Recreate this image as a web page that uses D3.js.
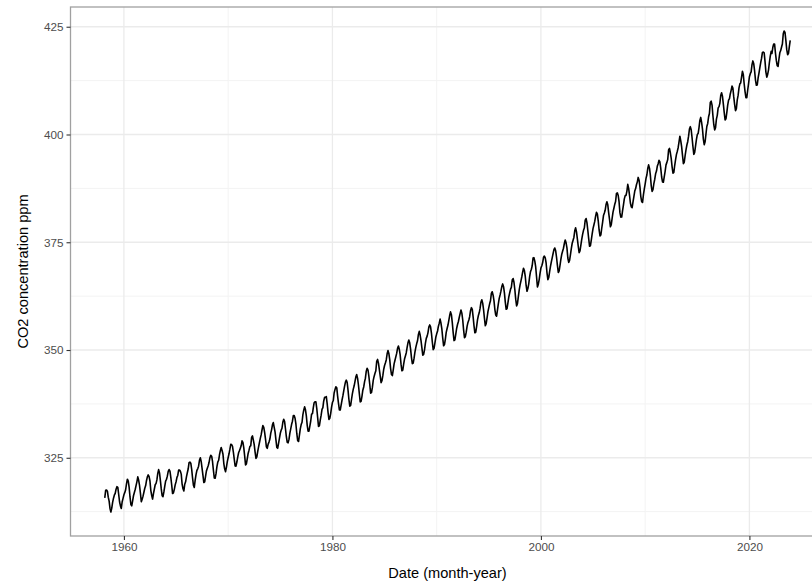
<!DOCTYPE html>
<html>
<head>
<meta charset="utf-8">
<script src="https://cdn.jsdelivr.net/npm/d3@7"></script>
<style>
  body { margin: 0; background: #fff; }
  svg { display: block; font-family: "Liberation Sans", Arial, sans-serif; }
</style>
</head>
<body>
<div id="chart"></div>
<script>
// Mauna Loa monthly CO2 (ppm), first series starts March 1958
const startYear = 1958;
const startMonth = 2; // 0-based: March

const co2_1950s = [
  315.70, 317.45, 317.51, 317.24, 315.86, 314.93, 313.20, 312.43, 313.33, 314.67,
  315.62, 316.38, 316.71, 317.72, 318.29, 318.15, 316.54, 314.80, 313.84, 313.26, 314.80, 315.58
];
const co2_1960s = [
  316.43, 316.97, 317.58, 319.02, 320.03, 319.59, 318.18, 315.91, 314.16, 313.83, 315.00, 316.19,
  316.93, 317.70, 318.54, 319.48, 320.58, 319.77, 318.57, 316.79, 314.80, 315.38, 316.10, 317.01,
  317.94, 318.56, 319.68, 320.57, 321.02, 320.62, 319.61, 317.40, 316.25, 315.42, 316.69, 317.70,
  318.74, 319.07, 319.86, 321.38, 322.25, 321.48, 319.74, 317.77, 316.21, 315.99, 317.07, 318.35,
  319.57, 320.01, 320.74, 321.84, 322.26, 321.89, 320.44, 318.69, 316.70, 316.87, 317.68, 318.71,
  319.44, 320.44, 320.89, 322.14, 322.17, 321.87, 321.21, 318.87, 317.81, 317.30, 318.87, 319.42,
  320.62, 321.59, 322.39, 323.87, 324.01, 323.75, 322.39, 320.37, 318.64, 318.10, 319.79, 321.08,
  322.07, 322.50, 323.04, 324.42, 325.00, 324.09, 322.54, 320.92, 319.25, 319.39, 320.73, 321.96,
  322.57, 323.15, 323.89, 325.02, 325.57, 325.36, 324.14, 322.11, 320.33, 320.25, 321.32, 322.89,
  324.00, 324.42, 325.64, 326.66, 327.38, 326.70, 325.89, 323.67, 322.38, 321.78, 322.85, 324.12
];
const co2_1970s = [
  325.06, 325.98, 326.93, 328.13, 328.08, 327.67, 326.34, 324.69, 323.10, 323.06, 324.01, 325.13,
  326.17, 326.68, 327.18, 327.78, 328.92, 328.57, 327.34, 325.46, 323.36, 323.57, 324.80, 326.01,
  326.77, 327.63, 327.75, 329.72, 330.07, 329.09, 328.04, 326.32, 324.84, 325.20, 326.50, 327.55,
  328.55, 329.56, 330.30, 331.50, 332.48, 332.07, 330.87, 329.31, 327.51, 327.18, 328.16, 328.64,
  329.35, 330.71, 331.48, 332.65, 333.16, 332.06, 330.99, 329.17, 327.41, 327.20, 328.33, 329.50,
  330.68, 331.41, 331.85, 333.29, 333.91, 333.40, 331.74, 329.88, 328.57, 328.46, 329.26, 330.67,
  331.71, 332.76, 333.48, 334.78, 334.78, 334.17, 332.78, 330.64, 328.95, 328.77, 330.23, 331.69,
  332.70, 333.24, 334.96, 336.04, 336.82, 336.13, 334.73, 332.52, 331.19, 331.19, 332.35, 333.47,
  335.11, 335.26, 336.60, 337.77, 338.00, 337.99, 336.48, 334.37, 332.27, 332.41, 333.76, 334.83,
  336.21, 336.64, 338.12, 339.02, 339.02, 339.20, 337.58, 335.55, 333.89, 334.14, 335.26, 336.71
];
const co2_1980s = [
  337.81, 338.29, 340.04, 340.86, 341.47, 341.26, 339.29, 337.60, 336.12, 336.08, 337.22, 338.34,
  339.36, 340.51, 341.57, 342.56, 343.01, 342.47, 340.71, 338.52, 336.96, 337.13, 338.58, 339.89,
  340.93, 341.69, 342.69, 343.79, 344.30, 343.43, 341.88, 339.89, 337.95, 338.10, 339.27, 340.67,
  341.42, 342.68, 343.46, 345.10, 345.76, 345.36, 343.91, 342.05, 340.00, 340.12, 341.33, 342.94,
  343.87, 344.60, 345.20, 347.36, 347.81, 346.96, 345.53, 343.98, 342.41, 342.87, 344.04, 345.48,
  346.40, 347.05, 347.69, 349.12, 349.90, 349.17, 347.76, 345.69, 344.30, 344.07, 345.39, 346.77,
  347.63, 348.46, 349.22, 350.40, 350.94, 350.16, 348.91, 346.72, 345.18, 345.33, 346.71, 347.90,
  348.61, 349.38, 350.56, 351.68, 352.30, 351.66, 350.26, 348.31, 346.83, 346.97, 348.11, 349.50,
  350.60, 351.49, 352.15, 353.62, 354.33, 353.47, 352.16, 350.49, 348.80, 348.98, 350.05, 351.54,
  352.70, 353.23, 353.99, 355.32, 355.82, 355.37, 353.94, 351.85, 350.09, 350.39, 351.63, 352.95
];
const co2_1990s = [
  353.75, 354.41, 355.47, 356.23, 357.16, 356.20, 354.88, 352.76, 350.98, 351.25, 352.53, 354.09,
  354.98, 355.79, 356.84, 358.00, 358.85, 358.19, 356.42, 354.09, 352.19, 352.35, 353.68, 354.99,
  355.92, 356.62, 357.54, 358.45, 359.29, 358.56, 357.02, 354.66, 352.88, 353.09, 354.14, 355.48,
  356.40, 356.97, 357.72, 359.14, 359.82, 359.41, 357.69, 355.60, 353.99, 354.17, 355.47, 357.00,
  358.01, 358.69, 359.66, 361.09, 361.65, 360.88, 359.40, 357.37, 355.62, 356.11, 357.46, 358.87,
  359.82, 360.78, 361.43, 363.13, 363.52, 362.71, 361.47, 359.45, 358.11, 357.85, 359.32, 360.72,
  361.99, 362.79, 363.65, 364.72, 365.33, 364.69, 363.26, 361.12, 359.45, 359.62, 360.95, 362.28,
  363.23, 364.11, 364.52, 366.24, 366.58, 365.72, 364.03, 361.80, 360.24, 360.76, 362.40, 363.90,
  365.11, 366.05, 366.94, 368.06, 368.98, 368.44, 367.12, 364.97, 363.63, 364.26, 365.36, 366.97,
  368.19, 368.73, 369.54, 371.33, 371.44, 370.61, 369.32, 366.99, 364.61, 365.21, 366.35, 367.79
];
const co2_2000s = [
  369.02, 369.55, 370.24, 371.51, 371.80, 371.36, 370.19, 367.90, 366.31, 366.81, 368.16, 369.40,
  370.48, 371.44, 372.34, 373.28, 373.67, 373.01, 371.52, 369.62, 367.98, 368.36, 369.67, 371.06,
  372.23, 372.98, 373.61, 374.71, 375.52, 374.88, 373.69, 371.34, 370.33, 370.78, 372.15, 373.53,
  374.77, 375.48, 376.11, 377.65, 378.35, 377.39, 375.80, 374.07, 372.57, 372.99, 374.31, 375.66,
  376.84, 377.76, 378.31, 380.14, 380.50, 379.57, 377.79, 375.86, 374.06, 374.23, 375.55, 376.92,
  378.21, 379.05, 379.84, 381.06, 381.95, 381.52, 379.98, 377.85, 376.46, 376.68, 378.25, 379.63,
  381.19, 381.77, 382.41, 383.74, 384.38, 383.68, 381.89, 380.32, 378.58, 379.09, 380.59, 381.99,
  382.89, 383.84, 384.46, 386.35, 386.47, 385.85, 384.41, 381.81, 380.83, 380.85, 382.34, 383.64,
  385.07, 385.82, 385.86, 386.87, 388.44, 387.50, 385.94, 384.10, 383.20, 383.02, 384.34, 385.59,
  386.88, 387.45, 388.34, 389.01, 390.04, 389.40, 387.85, 385.60, 384.44, 384.24, 386.04, 387.30
];
const co2_2010s = [
  388.52, 389.87, 390.60, 392.10, 392.96, 392.20, 390.56, 388.15, 386.80, 387.18, 388.60, 389.56,
  390.87, 391.51, 392.61, 393.24, 394.01, 393.62, 392.14, 390.14, 389.00, 388.93, 390.22, 391.46,
  392.95, 393.53, 394.20, 396.44, 396.78, 395.76, 394.45, 392.50, 391.01, 391.19, 392.86, 394.16,
  395.39, 396.13, 396.93, 398.30, 399.60, 398.53, 397.17, 395.14, 393.23, 393.56, 395.13, 396.44,
  397.56, 398.38, 399.60, 401.28, 401.81, 401.10, 399.30, 397.21, 395.40, 395.82, 397.35, 398.81,
  399.98, 400.28, 401.54, 403.28, 403.96, 402.80, 401.31, 398.93, 397.63, 398.29, 400.16, 401.85,
  402.56, 404.12, 404.87, 407.45, 407.72, 406.83, 404.41, 402.27, 401.05, 401.59, 403.55, 404.45,
  406.17, 406.46, 407.22, 409.04, 409.69, 408.88, 407.12, 405.13, 403.37, 403.63, 405.12, 406.81,
  407.96, 408.32, 409.41, 410.24, 411.24, 410.79, 408.71, 406.99, 405.51, 406.00, 408.02, 409.07,
  410.83, 411.75, 411.97, 413.32, 414.66, 413.92, 411.77, 409.95, 408.54, 408.53, 410.27, 411.76
];
const co2_2020s = [
  413.40, 414.11, 414.51, 416.21, 417.07, 416.39, 414.74, 412.64, 411.42, 411.48, 413.11, 414.25,
  415.52, 416.75, 417.64, 419.05, 419.13, 418.94, 416.96, 414.47, 413.30, 413.93, 415.01, 416.71,
  418.19, 419.28, 418.81, 420.23, 420.99, 420.99, 418.90, 417.19, 415.95, 415.78, 417.51, 418.95,
  419.47, 420.31, 420.99, 423.36, 424.00, 423.68, 421.83, 419.68, 418.51, 418.82, 420.46, 421.86
];

const xTickYears = [1960, 1980, 2000, 2020];
const xMinorYears = [1970, 1990, 2010];
const yTicks = [325, 350, 375, 400, 425];
const yMinor = [312.5, 337.5, 362.5, 387.5, 412.5];

const data = [co2_1950s, co2_1960s, co2_1970s, co2_1980s, co2_1990s, co2_2000s, co2_2010s, co2_2020s]
  .flat()
  .map((v, i) => ({ date: new Date(startYear, startMonth + i, 1), ppm: v }));

const W = 812, H = 584;
const panel = { left: 70.5, right: 824.5, top: 7, bottom: 536 };

const svg = d3.select("#chart").append("svg")
  .attr("width", W)
  .attr("height", H);

// ggplot-style 5% expansion of the data range
const xExt = d3.extent(data, d => d.date);
const xPad = (xExt[1] - xExt[0]) * 0.05;
const x = d3.scaleTime()
  .domain([new Date(+xExt[0] - xPad), new Date(+xExt[1] + xPad)])
  .range([panel.left, panel.right]);

const yExt = d3.extent(data, d => d.ppm);
const yPad = (yExt[1] - yExt[0]) * 0.05;
const y = d3.scaleLinear()
  .domain([yExt[0] - yPad, yExt[1] + yPad])
  .range([panel.bottom, panel.top]);

const yearDate = yr => new Date(yr, 0, 1);

// grid
const grid = svg.append("g");
grid.selectAll(".ymin").data(yMinor).join("line")
  .attr("x1", panel.left).attr("x2", panel.right)
  .attr("y1", d => y(d)).attr("y2", d => y(d))
  .attr("stroke", "#f3f3f3").attr("stroke-width", 1);
grid.selectAll(".xmin").data(xMinorYears).join("line")
  .attr("y1", panel.top).attr("y2", panel.bottom)
  .attr("x1", d => x(yearDate(d))).attr("x2", d => x(yearDate(d)))
  .attr("stroke", "#f3f3f3").attr("stroke-width", 1);
grid.selectAll(".ymaj").data(yTicks).join("line")
  .attr("x1", panel.left).attr("x2", panel.right)
  .attr("y1", d => y(d)).attr("y2", d => y(d))
  .attr("stroke", "#ebebeb").attr("stroke-width", 1.3);
grid.selectAll(".xmaj").data(xTickYears).join("line")
  .attr("y1", panel.top).attr("y2", panel.bottom)
  .attr("x1", d => x(yearDate(d))).attr("x2", d => x(yearDate(d)))
  .attr("stroke", "#ebebeb").attr("stroke-width", 1.3);

// line
const line = d3.line()
  .x(d => x(d.date))
  .y(d => y(d.ppm));

svg.append("path")
  .datum(data)
  .attr("fill", "none")
  .attr("stroke", "#000")
  .attr("stroke-width", 1.6)
  .attr("stroke-linejoin", "round")
  .attr("d", line);

// panel border
svg.append("rect")
  .attr("x", panel.left).attr("y", panel.top)
  .attr("width", panel.right - panel.left)
  .attr("height", panel.bottom - panel.top)
  .attr("fill", "none")
  .attr("stroke", "#a0a0a0")
  .attr("stroke-width", 1.3);

// axes
const xAxis = svg.append("g")
  .attr("transform", `translate(0,${panel.bottom})`)
  .call(d3.axisBottom(x)
    .tickValues(xTickYears.map(yearDate))
    .tickFormat(d3.timeFormat("%Y"))
    .tickSizeInner(4).tickSizeOuter(0).tickPadding(3));

const yAxis = svg.append("g")
  .attr("transform", `translate(${panel.left},0)`)
  .call(d3.axisLeft(y)
    .tickValues(yTicks)
    .tickSizeInner(4).tickSizeOuter(0).tickPadding(3));

[xAxis, yAxis].forEach(g => {
  g.select(".domain").remove();
  g.selectAll(".tick line").attr("stroke", "#333").attr("stroke-width", 1.1);
  g.selectAll(".tick text")
    .attr("fill", "#4d4d4d")
    .style("font-size", "11.7px")
    .style("font-family", "Liberation Sans, Arial, sans-serif");
});

// titles
svg.append("text")
  .attr("x", (panel.left + panel.right) / 2)
  .attr("y", 578)
  .attr("text-anchor", "middle")
  .style("font-size", "14.6px")
  .attr("fill", "#000")
  .text("Date (month-year)");

svg.append("text")
  .attr("transform", `translate(28,${(panel.top + panel.bottom) / 2}) rotate(-90)`)
  .attr("text-anchor", "middle")
  .style("font-size", "14.6px")
  .attr("fill", "#000")
  .text("CO2 concentration ppm");
</script>
</body>
</html>
